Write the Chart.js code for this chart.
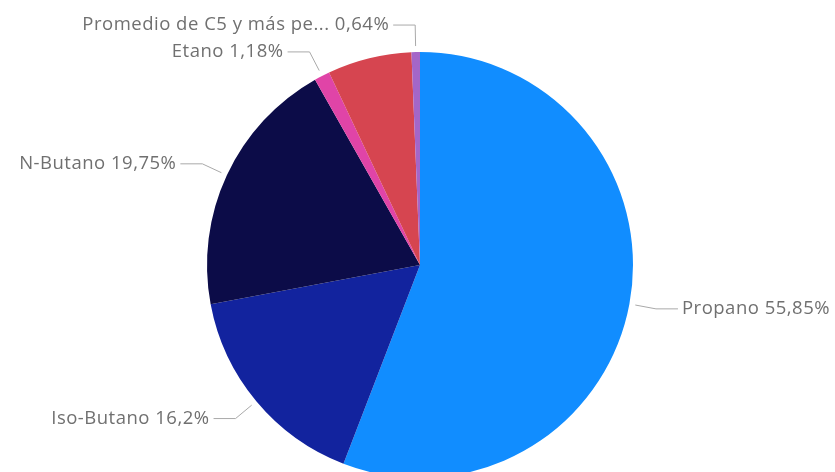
<!DOCTYPE html>
<html>
<head>
<meta charset="utf-8">
<script src="https://cdn.jsdelivr.net/npm/chart.js@4.4.1/dist/chart.umd.min.js"></script>
<style>
  html, body { margin: 0; padding: 0; background: #fff; overflow: hidden; }
  #wrap { width: 835px; height: 472px; position: relative; }
</style>
</head>
<body>
<div id="wrap"><canvas id="pie"></canvas></div>
<script>
// slices, clockwise from 12 o'clock
const labels = ["Propano", "Iso-Butano", "N-Butano", "Etano", "", "Promedio de C5 y más pe..."];
const values = [55.85, 16.2, 19.75, 1.18, 6.38, 0.64];
const colors = ["#118DFF", "#12239E", "#0C0C48", "#E044A7", "#D64550", "#A466C8"];

function fmt(v) {
    return String(v).replace(".", ",") + "%";
}

// Power BI style outside labels with elbow leader lines
const leaderLabels = {
    id: "leaderLabels",
    afterDatasetsDraw(chart) {
        const ctx = chart.ctx;
        const arcs = chart.getDatasetMeta(0).data;
        ctx.save();
        ctx.font = "18.5px 'Open Sans', sans-serif";
        ctx.letterSpacing = "0.5px";
        ctx.textBaseline = "middle";
        arcs.forEach(function (arc, i) {
            if (!labels[i]) return;
            const p = arc.getProps(["x", "y", "startAngle", "endAngle", "outerRadius"], true);
            const mid = (p.startAngle + p.endAngle) / 2;
            const cx = Math.cos(mid), cy = Math.sin(mid);
            const r0 = p.outerRadius + 6, r1 = p.outerRadius + 27;
            const x0 = p.x + r0 * cx, y0 = p.y + r0 * cy;
            const x1 = p.x + r1 * cx, y1 = p.y + r1 * cy;
            const right = cx >= 0;
            const x2 = x1 + (right ? 22 : -22);
            ctx.strokeStyle = "#a9a9a9";
            ctx.lineWidth = 1;
            ctx.beginPath();
            ctx.moveTo(x0, y0);
            ctx.lineTo(x1, y1);
            ctx.lineTo(x2, y1);
            ctx.stroke();
            ctx.fillStyle = "#707070";
            ctx.textAlign = right ? "left" : "right";
            ctx.fillText(labels[i] + " " + fmt(values[i]), x2 + (right ? 4 : -4), y1);
        });
        ctx.restore();
    }
};

new Chart(document.getElementById("pie"), {
    type: "pie",
    data: {
        labels: labels,
        datasets: [{
            data: values,
            backgroundColor: colors,
            borderWidth: 0,
            clip: false
        }]
    },
    options: {
        responsive: true,
        maintainAspectRatio: false,
        animation: false,
        radius: 213,
        layout: { padding: { top: 58, left: 5, right: 0, bottom: 0 } },
        plugins: {
            legend: { display: false },
            tooltip: { enabled: false }
        }
    },
    plugins: [leaderLabels]
});
</script>
</body>
</html>
